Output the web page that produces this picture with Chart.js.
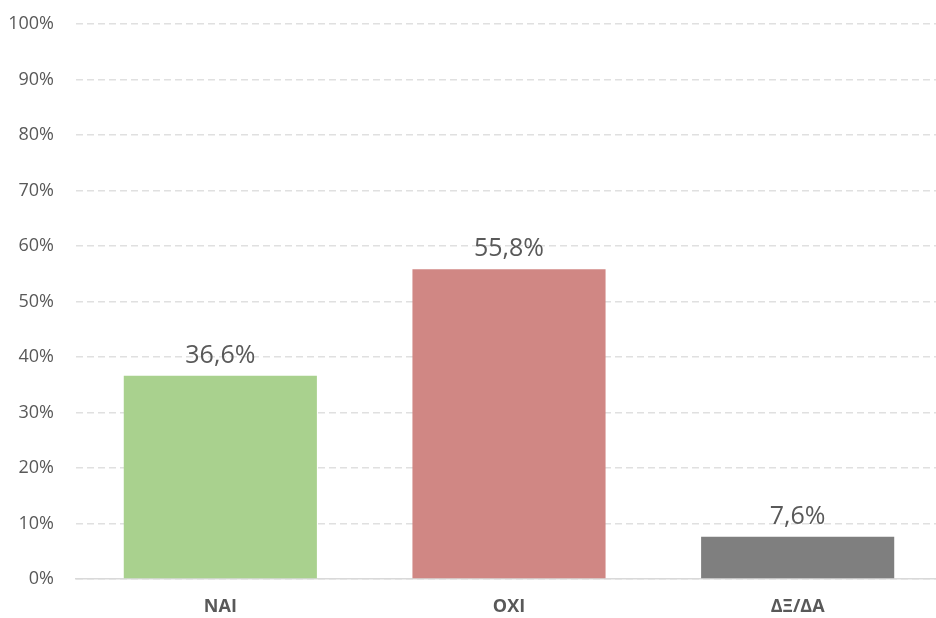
<!DOCTYPE html>
<html>
<head>
<meta charset="utf-8">
<script src="https://cdn.jsdelivr.net/npm/chart.js@4/dist/chart.umd.min.js"></script>
<style>
  html, body { margin: 0; padding: 0; background: #fff; overflow: hidden; }
  #wrap { width: 942px; height: 618px; }
</style>
</head>
<body>
<div id="wrap"><canvas id="chart"></canvas></div>
<script>
// chart values
const categories = ['NAI', 'OXI', 'ΔΞ/ΔΑ'];
const shares = [36.6, 55.8, 7.6];
const barColors = ['#a9d18e', '#d08784', '#7f7f7f'];
const yTicks = [0, 10, 20, 30, 40, 50, 60, 70, 80, 90, 100];

const fmt = (v) => v.toFixed(1).replace('.', ',') + '%';

// draws the value above each bar
const valueLabels = {
  id: 'valueLabels',
  afterDatasetsDraw(chart) {
    const ctx = chart.ctx;
    const meta = chart.getDatasetMeta(0);
    ctx.save();
    ctx.font = '25px "Open Sans", sans-serif';
    ctx.fillStyle = '#595959';
    ctx.textAlign = 'center';
    ctx.textBaseline = 'middle';
    meta.data.forEach((bar, i) => {
      ctx.fillText(fmt(shares[i]), bar.x, bar.y - 20);
    });
    ctx.restore();
  }
};

new Chart(document.getElementById('chart'), {
  type: 'bar',
  data: {
    labels: categories,
    datasets: [{
      data: shares,
      backgroundColor: barColors,
      categoryPercentage: 0.669,
      barPercentage: 1.0
    }]
  },
  options: {
    responsive: true,
    maintainAspectRatio: false,
    animation: false,
    layout: { padding: { top: 24, left: 0, right: 0, bottom: 0 } },
    plugins: {
      legend: { display: false },
      tooltip: { enabled: false }
    },
    scales: {
      x: {
        afterFit(scale) {
          scale.height = 39;
          scale.paddingLeft = 0;
          scale.paddingRight = 0;
        },
        grid: { display: false, drawTicks: false },
        border: { color: '#d9d9d9', width: 1.5 },
        ticks: {
          color: '#595959',
          padding: 17,
          font: { family: '"Open Sans", sans-serif', size: 18, weight: 'bold' }
        }
      },
      y: {
        min: 0,
        max: 100,
        afterBuildTicks(axis) {
          axis.ticks = yTicks.map((v) => ({ value: v }));
        },
        afterFit(scale) {
          scale.width = 76;
          scale.paddingTop = 0;
          scale.paddingBottom = 0;
        },
        grid: { color: '#e0e0e0', lineWidth: 1.5, drawTicks: false },
        border: { display: false, dash: [7, 4] },
        ticks: {
          color: '#595959',
          padding: 22,
          font: { family: '"Open Sans", sans-serif', size: 18 },
          callback: (v) => v + '%'
        }
      }
    }
  },
  plugins: [valueLabels]
});
</script>
</body>
</html>
